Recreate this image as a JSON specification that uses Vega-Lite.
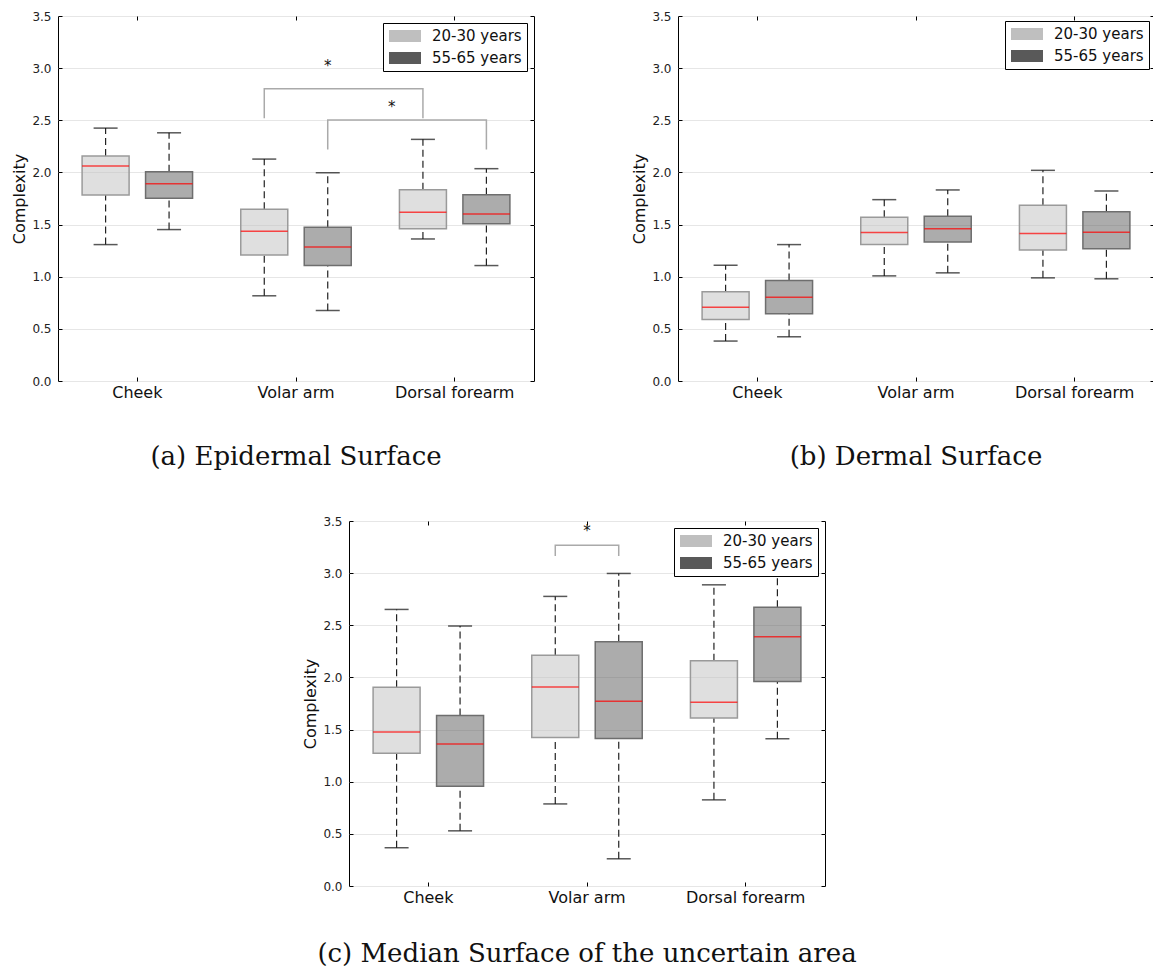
{
  "$schema": "https://vega.github.io/schema/vega-lite/v6.json",
  "background": "white",
  "padding": {"left": 11, "top": 9, "right": 0, "bottom": 0},
  "config": {"font": "DejaVu Sans", "view": {"stroke": null}},
  "datasets": {
    "boxA": [
      {"site": "Cheek", "group": "20-30 years", "lower": 1.308, "q1": 1.784, "median": 2.061, "q3": 2.157, "upper": 2.425},
      {"site": "Cheek", "group": "55-65 years", "lower": 1.452, "q1": 1.752, "median": 1.892, "q3": 2.007, "upper": 2.380},
      {"site": "Volar arm", "group": "20-30 years", "lower": 0.817, "q1": 1.209, "median": 1.436, "q3": 1.646, "upper": 2.128},
      {"site": "Volar arm", "group": "55-65 years", "lower": 0.676, "q1": 1.107, "median": 1.286, "q3": 1.474, "upper": 1.997},
      {"site": "Dorsal forearm", "group": "20-30 years", "lower": 1.362, "q1": 1.461, "median": 1.618, "q3": 1.835, "upper": 2.317},
      {"site": "Dorsal forearm", "group": "55-65 years", "lower": 1.107, "q1": 1.509, "median": 1.602, "q3": 1.787, "upper": 2.036}
    ],
    "boxB": [
      {"site": "Cheek", "group": "20-30 years", "lower": 0.383, "q1": 0.590, "median": 0.708, "q3": 0.855, "upper": 1.110},
      {"site": "Cheek", "group": "55-65 years", "lower": 0.424, "q1": 0.645, "median": 0.804, "q3": 0.964, "upper": 1.308},
      {"site": "Volar arm", "group": "20-30 years", "lower": 1.008, "q1": 1.308, "median": 1.423, "q3": 1.570, "upper": 1.739},
      {"site": "Volar arm", "group": "55-65 years", "lower": 1.037, "q1": 1.334, "median": 1.461, "q3": 1.580, "upper": 1.832},
      {"site": "Dorsal forearm", "group": "20-30 years", "lower": 0.989, "q1": 1.257, "median": 1.414, "q3": 1.685, "upper": 2.020},
      {"site": "Dorsal forearm", "group": "55-65 years", "lower": 0.980, "q1": 1.267, "median": 1.426, "q3": 1.624, "upper": 1.822}
    ],
    "boxC": [
      {"site": "Cheek", "group": "20-30 years", "lower": 0.367, "q1": 1.272, "median": 1.476, "q3": 1.906, "upper": 2.652},
      {"site": "Cheek", "group": "55-65 years", "lower": 0.529, "q1": 0.956, "median": 1.361, "q3": 1.635, "upper": 2.493},
      {"site": "Volar arm", "group": "20-30 years", "lower": 0.787, "q1": 1.425, "median": 1.909, "q3": 2.212, "upper": 2.777},
      {"site": "Volar arm", "group": "55-65 years", "lower": 0.261, "q1": 1.415, "median": 1.772, "q3": 2.343, "upper": 2.997},
      {"site": "Dorsal forearm", "group": "20-30 years", "lower": 0.826, "q1": 1.610, "median": 1.763, "q3": 2.161, "upper": 2.888},
      {"site": "Dorsal forearm", "group": "55-65 years", "lower": 1.412, "q1": 1.960, "median": 2.391, "q3": 2.674, "upper": 3.100}
    ],
    "brA": [
      {"bracket": 1, "order": 0, "site": "Volar arm", "group": "20-30 years", "y": 2.519},
      {"bracket": 1, "order": 1, "site": "Volar arm", "group": "20-30 years", "y": 2.803},
      {"bracket": 1, "order": 2, "site": "Dorsal forearm", "group": "20-30 years", "y": 2.803},
      {"bracket": 1, "order": 3, "site": "Dorsal forearm", "group": "20-30 years", "y": 2.519},
      {"bracket": 2, "order": 0, "site": "Volar arm", "group": "55-65 years", "y": 2.221},
      {"bracket": 2, "order": 1, "site": "Volar arm", "group": "55-65 years", "y": 2.502},
      {"bracket": 2, "order": 2, "site": "Dorsal forearm", "group": "55-65 years", "y": 2.502},
      {"bracket": 2, "order": 3, "site": "Dorsal forearm", "group": "55-65 years", "y": 2.221}
    ],
    "brC": [
      {"bracket": 1, "order": 0, "site": "Volar arm", "group": "20-30 years", "y": 3.165},
      {"bracket": 1, "order": 1, "site": "Volar arm", "group": "20-30 years", "y": 3.267},
      {"bracket": 1, "order": 2, "site": "Volar arm", "group": "55-65 years", "y": 3.267},
      {"bracket": 1, "order": 3, "site": "Volar arm", "group": "55-65 years", "y": 3.165}
    ]
  },
  "spacing": 43,
  "resolve": {"scale": {"color": "independent"}, "legend": {"color": "independent"}},
  "vconcat": [
    {
      "spacing": 96,
      "resolve": {"scale": {"color": "independent"}, "legend": {"color": "independent"}},
      "hconcat": [
        {
          "width": 476, "height": 365,
          "view": {"stroke": "black", "strokeWidth": 1},
          "title": {"text": "(a) Epidermal Surface", "orient": "bottom", "anchor": "middle", "frame": "group", "font": "DejaVu Serif", "fontSize": 26, "fontWeight": "normal", "color": "#111111", "offset": 44},
          "resolve": {"axis": {"x": "independent", "y": "independent"}},
          "layer": [
            {"data": {"name": "boxA"}, "mark": {"type": "rule", "strokeDash": [7, 4], "color": "#222222", "strokeWidth": 1.2},
             "encoding": {
               "x": {"field": "site", "type": "nominal", "scale": {"domain": ["Cheek", "Volar arm", "Dorsal forearm"], "paddingInner": 0, "paddingOuter": 0}, "axis": null},
               "xOffset": {"field": "group", "type": "nominal", "scale": {"domain": ["20-30 years", "55-65 years"], "paddingInner": 0, "paddingOuter": 0.25}},
               "y": {"field": "lower", "type": "quantitative", "scale": {"domain": [0, 3.5], "nice": false}, "axis": null},
               "y2": {"field": "q1"}}},
            {"data": {"name": "boxA"}, "mark": {"type": "rule", "strokeDash": [7, 4], "color": "#222222", "strokeWidth": 1.2},
             "encoding": {
               "x": {"field": "site", "type": "nominal", "axis": null},
               "xOffset": {"field": "group", "type": "nominal"},
               "y": {"field": "q3", "type": "quantitative", "axis": null},
               "y2": {"field": "upper"}}},
            {"data": {"name": "boxA"}, "mark": {"type": "tick", "color": "#111111", "size": 24, "thickness": 1.5},
             "encoding": {
               "x": {"field": "site", "type": "nominal", "axis": null},
               "xOffset": {"field": "group", "type": "nominal"},
               "y": {"field": "lower", "type": "quantitative", "axis": null}}},
            {"data": {"name": "boxA"}, "mark": {"type": "tick", "color": "#111111", "size": 24, "thickness": 1.5},
             "encoding": {
               "x": {"field": "site", "type": "nominal", "axis": null},
               "xOffset": {"field": "group", "type": "nominal"},
               "y": {"field": "upper", "type": "quantitative", "axis": null}}},
            {"data": {"name": "boxA"}, "mark": {"type": "bar", "size": 47, "fillOpacity": 0.5, "strokeWidth": 1.5},
             "encoding": {
               "x": {"field": "site", "type": "nominal", "axis": {"orient": "bottom", "title": null, "domain": false, "grid": false, "tickSize": -4, "tickColor": "black", "labelAngle": 0, "labelFontSize": 16, "labelColor": "#111111", "labelPadding": 7}},
               "xOffset": {"field": "group", "type": "nominal"},
               "y": {"field": "q1", "type": "quantitative", "axis": {"orient": "left", "values": [0, 0.5, 1, 1.5, 2, 2.5, 3, 3.5], "format": ".1f", "grid": true, "gridColor": "#e6e6e6", "domain": false, "tickSize": -4, "tickColor": "black", "labelFontSize": 12, "labelColor": "#222222", "labelPadding": 11, "title": "Complexity", "titleFontSize": 16, "titleFontWeight": "normal", "titleColor": "#111111", "titlePadding": 4}},
               "y2": {"field": "q3"},
               "color": {"field": "group", "type": "nominal", "scale": {"domain": ["20-30 years", "55-65 years"], "range": ["#bfbfbf", "#595959"]},
                 "legend": {"orient": "top-right", "offset": 7, "title": null, "strokeColor": "black", "fillColor": "white", "padding": 5, "labelFontSize": 15, "labelColor": "#111111", "symbolType": "M-2,-0.75H2V0.75H-2Z", "symbolSize": 256, "symbolOffset": 9, "symbolStrokeWidth": 0, "symbolOpacity": 1, "labelOffset": 19, "rowPadding": 6}},
               "stroke": {"condition": {"test": "datum.group === '20-30 years'", "value": "#9a9a9a"}, "value": "#6e6e6e"}}},
            {"data": {"name": "boxA"}, "mark": {"type": "tick", "color": "red", "size": 47, "thickness": 1.5},
             "encoding": {
               "x": {"field": "site", "type": "nominal", "axis": {"orient": "top", "labels": false, "title": null, "domain": false, "grid": false, "tickSize": -4, "tickColor": "black"}},
               "xOffset": {"field": "group", "type": "nominal"},
               "y": {"field": "median", "type": "quantitative", "axis": {"orient": "right", "values": [0, 0.5, 1, 1.5, 2, 2.5, 3, 3.5], "labels": false, "title": null, "domain": false, "grid": false, "tickSize": -4, "tickColor": "black"}}}},
            {"data": {"name": "brA"}, "mark": {"type": "line", "color": "#aaaaaa", "strokeWidth": 1.5},
             "encoding": {
               "x": {"field": "site", "type": "nominal", "axis": null},
               "xOffset": {"field": "group", "type": "nominal"},
               "y": {"field": "y", "type": "quantitative", "axis": null},
               "detail": {"field": "bracket", "type": "nominal"},
               "order": {"field": "order", "type": "quantitative"}}},
            {"data": {"values": [{"site": "Volar arm", "group": "55-65 years", "y": 3.025, "label": "*"}]},
             "mark": {"type": "text", "fontSize": 15, "color": "#111111", "baseline": "middle", "align": "center"},
             "encoding": {
               "x": {"field": "site", "type": "nominal", "axis": null},
               "xOffset": {"field": "group", "type": "nominal"},
               "y": {"field": "y", "type": "quantitative", "axis": null},
               "text": {"field": "label"}}},
            {"data": {"values": [{"site": "Volar arm", "group": "55-65 years", "y": 2.625, "label": "*"}]},
             "mark": {"type": "text", "fontSize": 15, "color": "#111111", "baseline": "middle", "align": "center", "dx": 64},
             "encoding": {
               "x": {"field": "site", "type": "nominal", "axis": null},
               "xOffset": {"field": "group", "type": "nominal"},
               "y": {"field": "y", "type": "quantitative", "axis": null},
               "text": {"field": "label"}}}
          ]
        },
        {
          "width": 476, "height": 365,
          "view": {"stroke": "black", "strokeWidth": 1},
          "title": {"text": "(b) Dermal Surface", "orient": "bottom", "anchor": "middle", "frame": "group", "font": "DejaVu Serif", "fontSize": 26, "fontWeight": "normal", "color": "#111111", "offset": 44},
          "resolve": {"axis": {"x": "independent", "y": "independent"}},
          "layer": [
            {"data": {"name": "boxB"}, "mark": {"type": "rule", "strokeDash": [7, 4], "color": "#222222", "strokeWidth": 1.2},
             "encoding": {
               "x": {"field": "site", "type": "nominal", "scale": {"domain": ["Cheek", "Volar arm", "Dorsal forearm"], "paddingInner": 0, "paddingOuter": 0}, "axis": null},
               "xOffset": {"field": "group", "type": "nominal", "scale": {"domain": ["20-30 years", "55-65 years"], "paddingInner": 0, "paddingOuter": 0.25}},
               "y": {"field": "lower", "type": "quantitative", "scale": {"domain": [0, 3.5], "nice": false}, "axis": null},
               "y2": {"field": "q1"}}},
            {"data": {"name": "boxB"}, "mark": {"type": "rule", "strokeDash": [7, 4], "color": "#222222", "strokeWidth": 1.2},
             "encoding": {
               "x": {"field": "site", "type": "nominal", "axis": null},
               "xOffset": {"field": "group", "type": "nominal"},
               "y": {"field": "q3", "type": "quantitative", "axis": null},
               "y2": {"field": "upper"}}},
            {"data": {"name": "boxB"}, "mark": {"type": "tick", "color": "#111111", "size": 24, "thickness": 1.5},
             "encoding": {
               "x": {"field": "site", "type": "nominal", "axis": null},
               "xOffset": {"field": "group", "type": "nominal"},
               "y": {"field": "lower", "type": "quantitative", "axis": null}}},
            {"data": {"name": "boxB"}, "mark": {"type": "tick", "color": "#111111", "size": 24, "thickness": 1.5},
             "encoding": {
               "x": {"field": "site", "type": "nominal", "axis": null},
               "xOffset": {"field": "group", "type": "nominal"},
               "y": {"field": "upper", "type": "quantitative", "axis": null}}},
            {"data": {"name": "boxB"}, "mark": {"type": "bar", "size": 47, "fillOpacity": 0.5, "strokeWidth": 1.5},
             "encoding": {
               "x": {"field": "site", "type": "nominal", "axis": {"orient": "bottom", "title": null, "domain": false, "grid": false, "tickSize": -4, "tickColor": "black", "labelAngle": 0, "labelFontSize": 16, "labelColor": "#111111", "labelPadding": 7}},
               "xOffset": {"field": "group", "type": "nominal"},
               "y": {"field": "q1", "type": "quantitative", "axis": {"orient": "left", "values": [0, 0.5, 1, 1.5, 2, 2.5, 3, 3.5], "format": ".1f", "grid": true, "gridColor": "#e6e6e6", "domain": false, "tickSize": -4, "tickColor": "black", "labelFontSize": 12, "labelColor": "#222222", "labelPadding": 11, "title": "Complexity", "titleFontSize": 16, "titleFontWeight": "normal", "titleColor": "#111111", "titlePadding": 4}},
               "y2": {"field": "q3"},
               "color": {"field": "group", "type": "nominal", "scale": {"domain": ["20-30 years", "55-65 years"], "range": ["#bfbfbf", "#595959"]},
                 "legend": {"orient": "top-right", "offset": 5, "title": null, "strokeColor": "black", "fillColor": "white", "padding": 5, "labelFontSize": 15, "labelColor": "#111111", "symbolType": "M-2,-0.75H2V0.75H-2Z", "symbolSize": 256, "symbolOffset": 9, "symbolStrokeWidth": 0, "symbolOpacity": 1, "labelOffset": 19, "rowPadding": 6}},
               "stroke": {"condition": {"test": "datum.group === '20-30 years'", "value": "#9a9a9a"}, "value": "#6e6e6e"}}},
            {"data": {"name": "boxB"}, "mark": {"type": "tick", "color": "red", "size": 47, "thickness": 1.5},
             "encoding": {
               "x": {"field": "site", "type": "nominal", "axis": {"orient": "top", "labels": false, "title": null, "domain": false, "grid": false, "tickSize": -4, "tickColor": "black"}},
               "xOffset": {"field": "group", "type": "nominal"},
               "y": {"field": "median", "type": "quantitative", "axis": {"orient": "right", "values": [0, 0.5, 1, 1.5, 2, 2.5, 3, 3.5], "labels": false, "title": null, "domain": false, "grid": false, "tickSize": -4, "tickColor": "black"}}}}
          ]
        }
      ]
    },
    {
      "spacing": 0,
      "resolve": {"scale": {"color": "independent"}, "legend": {"color": "independent"}},
      "hconcat": [
        {"width": 244, "height": 10, "data": {"values": [{"t": ""}]}, "mark": {"type": "text"}, "encoding": {"text": {"field": "t"}}},
        {
          "width": 476, "height": 365,
          "view": {"stroke": "black", "strokeWidth": 1},
          "title": {"text": "(c) Median Surface of the uncertain area", "orient": "bottom", "anchor": "middle", "frame": "group", "font": "DejaVu Serif", "fontSize": 26, "fontWeight": "normal", "color": "#111111", "offset": 36},
          "resolve": {"axis": {"x": "independent", "y": "independent"}},
          "layer": [
            {"data": {"name": "boxC"}, "mark": {"type": "rule", "strokeDash": [7, 4], "color": "#222222", "strokeWidth": 1.2},
             "encoding": {
               "x": {"field": "site", "type": "nominal", "scale": {"domain": ["Cheek", "Volar arm", "Dorsal forearm"], "paddingInner": 0, "paddingOuter": 0}, "axis": null},
               "xOffset": {"field": "group", "type": "nominal", "scale": {"domain": ["20-30 years", "55-65 years"], "paddingInner": 0, "paddingOuter": 0.25}},
               "y": {"field": "lower", "type": "quantitative", "scale": {"domain": [0, 3.5], "nice": false}, "axis": null},
               "y2": {"field": "q1"}}},
            {"data": {"name": "boxC"}, "mark": {"type": "rule", "strokeDash": [7, 4], "color": "#222222", "strokeWidth": 1.2},
             "encoding": {
               "x": {"field": "site", "type": "nominal", "axis": null},
               "xOffset": {"field": "group", "type": "nominal"},
               "y": {"field": "q3", "type": "quantitative", "axis": null},
               "y2": {"field": "upper"}}},
            {"data": {"name": "boxC"}, "mark": {"type": "tick", "color": "#111111", "size": 24, "thickness": 1.5},
             "encoding": {
               "x": {"field": "site", "type": "nominal", "axis": null},
               "xOffset": {"field": "group", "type": "nominal"},
               "y": {"field": "lower", "type": "quantitative", "axis": null}}},
            {"data": {"name": "boxC"}, "mark": {"type": "tick", "color": "#111111", "size": 24, "thickness": 1.5},
             "encoding": {
               "x": {"field": "site", "type": "nominal", "axis": null},
               "xOffset": {"field": "group", "type": "nominal"},
               "y": {"field": "upper", "type": "quantitative", "axis": null}}},
            {"data": {"name": "boxC"}, "mark": {"type": "bar", "size": 47, "fillOpacity": 0.5, "strokeWidth": 1.5},
             "encoding": {
               "x": {"field": "site", "type": "nominal", "axis": {"orient": "bottom", "title": null, "domain": false, "grid": false, "tickSize": -4, "tickColor": "black", "labelAngle": 0, "labelFontSize": 16, "labelColor": "#111111", "labelPadding": 7}},
               "xOffset": {"field": "group", "type": "nominal"},
               "y": {"field": "q1", "type": "quantitative", "axis": {"orient": "left", "values": [0, 0.5, 1, 1.5, 2, 2.5, 3, 3.5], "format": ".1f", "grid": true, "gridColor": "#e6e6e6", "domain": false, "tickSize": -4, "tickColor": "black", "labelFontSize": 12, "labelColor": "#222222", "labelPadding": 11, "title": "Complexity", "titleFontSize": 16, "titleFontWeight": "normal", "titleColor": "#111111", "titlePadding": 4}},
               "y2": {"field": "q3"},
               "color": {"field": "group", "type": "nominal", "scale": {"domain": ["20-30 years", "55-65 years"], "range": ["#bfbfbf", "#595959"]},
                 "legend": {"orient": "top-right", "offset": 7, "title": null, "strokeColor": "black", "fillColor": "white", "padding": 5, "labelFontSize": 15, "labelColor": "#111111", "symbolType": "M-2,-0.75H2V0.75H-2Z", "symbolSize": 256, "symbolOffset": 9, "symbolStrokeWidth": 0, "symbolOpacity": 1, "labelOffset": 19, "rowPadding": 6}},
               "stroke": {"condition": {"test": "datum.group === '20-30 years'", "value": "#9a9a9a"}, "value": "#6e6e6e"}}},
            {"data": {"name": "boxC"}, "mark": {"type": "tick", "color": "red", "size": 47, "thickness": 1.5},
             "encoding": {
               "x": {"field": "site", "type": "nominal", "axis": {"orient": "top", "labels": false, "title": null, "domain": false, "grid": false, "tickSize": -4, "tickColor": "black"}},
               "xOffset": {"field": "group", "type": "nominal"},
               "y": {"field": "median", "type": "quantitative", "axis": {"orient": "right", "values": [0, 0.5, 1, 1.5, 2, 2.5, 3, 3.5], "labels": false, "title": null, "domain": false, "grid": false, "tickSize": -4, "tickColor": "black"}}}},
            {"data": {"name": "brC"}, "mark": {"type": "line", "color": "#aaaaaa", "strokeWidth": 1.5},
             "encoding": {
               "x": {"field": "site", "type": "nominal", "axis": null},
               "xOffset": {"field": "group", "type": "nominal"},
               "y": {"field": "y", "type": "quantitative", "axis": null},
               "detail": {"field": "bracket", "type": "nominal"},
               "order": {"field": "order", "type": "quantitative"}}},
            {"data": {"values": [{"site": "Volar arm", "y": 3.40, "label": "*"}]},
             "mark": {"type": "text", "fontSize": 15, "color": "#111111", "baseline": "middle", "align": "center"},
             "encoding": {
               "x": {"field": "site", "type": "nominal", "axis": null},
               "y": {"field": "y", "type": "quantitative", "axis": null},
               "text": {"field": "label"}}}
          ]
        }
      ]
    }
  ]
}
